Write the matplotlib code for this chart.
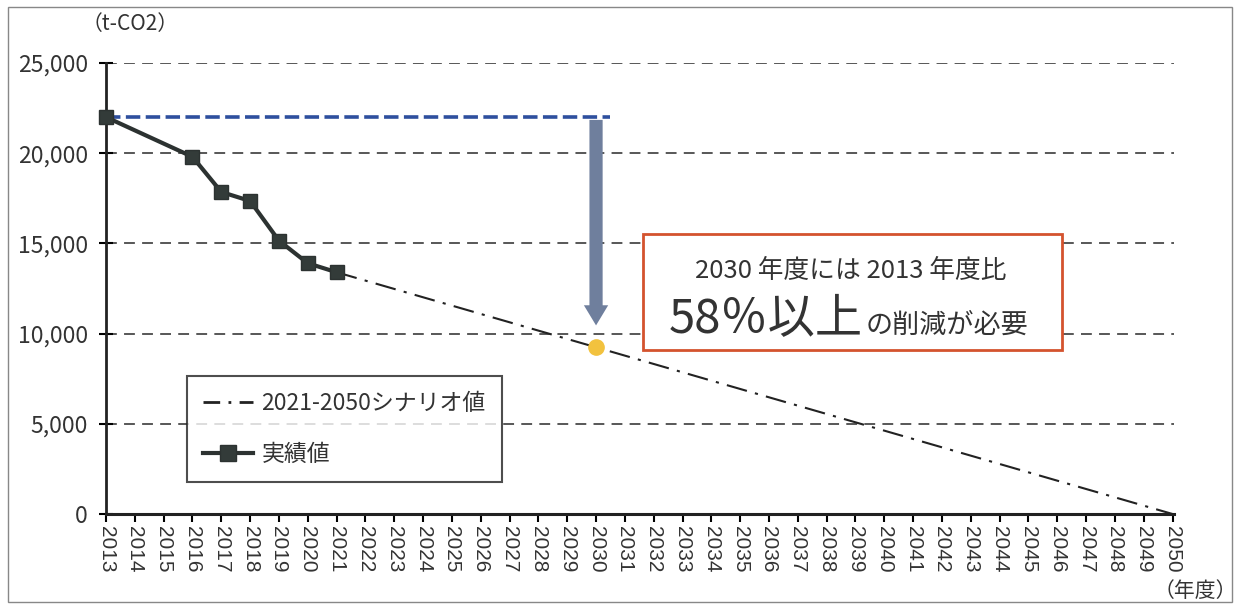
import matplotlib.pyplot as plt
from matplotlib.patches import Rectangle
from matplotlib.lines import Line2D

plt.rcParams['font.family'] = ['Noto Sans CJK JP', 'DejaVu Sans']

# data
years = list(range(2013, 2051))
actual_years = [2013, 2016, 2017, 2018, 2019, 2020, 2021]
actual_vals = [22000, 19800, 17850, 17350, 15150, 13900, 13400]
scenario_years = [2021, 2050]
scenario_vals = [13400, 0]
target_year = 2030
target_val = 13400 * (2050 - 2030) / (2050 - 2021)
base_val = 22000
y_ticks = [0, 5000, 10000, 15000, 20000, 25000]

W, H = 1235, 604
fig = plt.figure(figsize=(W / 100, H / 100), dpi=100)


def fx(x):
    return x / W


def fy(y):
    return 1 - y / H


ax = fig.add_axes([fx(106), fy(514), fx(1174 - 106), (514 - 63) / H])
ax.set_xlim(2013, 2050.05)
ax.set_ylim(0, 25000)

# grid
for v in y_ticks[1:]:
    ax.axhline(v, color='#4a4a4a', lw=1.3, ls=(0, (6, 4)), zorder=1)

# scenario
ax.plot(scenario_years, scenario_vals, color='#222222', lw=1.5,
        ls=(0, (10, 4, 1.5, 4)), zorder=3)

# 2013 level
ax.plot([2013, 2030.5], [base_val, base_val], color='#2e4f9e', lw=2.6,
        ls=(0, (4, 1.5)), zorder=3)

# arrow
ax.annotate('', xy=(target_year, 10300), xytext=(target_year, base_val),
            arrowprops=dict(arrowstyle='simple,head_width=1.75,head_length=1.45,tail_width=0.95',
                            mutation_scale=10, color='#6f7f9d', lw=0),
            zorder=4)

# actual
ax.plot(actual_years, actual_vals, color='#2c3231', lw=3, marker='s',
        markersize=10, markerfacecolor='#333b39', markeredgecolor='#2c3231',
        zorder=5, clip_on=False)

ax.plot([target_year], [target_val], 'o', color='#f2c23e', markersize=11,
        zorder=6)

# axes styling
for s in ['top', 'right']:
    ax.spines[s].set_visible(False)
ax.spines['left'].set_linewidth(2)
ax.spines['bottom'].set_linewidth(2.2)
ax.spines['left'].set_color('#222222')
ax.spines['bottom'].set_color('#222222')

ax.set_yticks(y_ticks)
ax.set_yticklabels([f'{v:,}' for v in y_ticks], fontsize=16.5, color='#333333')
ax.set_xticks(years)
ax.set_xticklabels([str(y) for y in years], rotation=-90, fontsize=15,
                   color='#333333', family='Liberation Sans')
ax.tick_params(axis='y', direction='inout', length=10, width=1.5, pad=8)
ax.tick_params(axis='x', direction='out', length=6, width=1.5, pad=3)

fig.text(fx(130), fy(24), '（t-CO2）', fontsize=15, color='#333333',
         ha='center', va='center')
fig.text(fx(1195), fy(591), '（年度）', fontsize=15, color='#333333',
         ha='center', va='center')

# legend
handles = [
    Line2D([], [], color='#222222', lw=2, ls=(0, (6, 3, 1, 3))),
    Line2D([], [], color='#2c3231', lw=3, marker='s', markersize=11,
           markerfacecolor='#333b39'),
]
leg = ax.legend(handles, ['2021-2050シナリオ値', '実績値'],
                loc='upper left', bbox_to_anchor=(fx(187), fy(376)),
                bbox_transform=fig.transFigure, fontsize=16.5,
                frameon=True, fancybox=False, borderpad=0.7,
                labelspacing=1.2, handlelength=2.2, handletextpad=0.35,
                borderaxespad=0)
leg.get_frame().set_edgecolor('#222222')
leg.get_frame().set_linewidth(1.5)
for t in leg.get_texts():
    t.set_color('#333333')

# message box
box = Rectangle((fx(643), fy(350)), fx(1062 - 643), (350 - 234) / H,
                transform=fig.transFigure, facecolor='white',
                edgecolor='#d4532e', lw=2, zorder=5)
fig.patches.append(box)
fig.text(fx(851), fy(271), '2030 年度には 2013 年度比', fontsize=18.5,
         color='#333333', ha='center', va='center', zorder=6)
fig.text(fx(863), fy(333), '58％以上', fontsize=34, color='#333333',
         ha='right', va='baseline', zorder=6)
fig.text(fx(866), fy(333), 'の削減が必要', fontsize=19.5, color='#333333',
         ha='left', va='baseline', zorder=6)

# outer frame
frame = Rectangle((fx(8), fy(602)), fx(1232 - 8), (602 - 7) / H,
                  transform=fig.transFigure, fill=False,
                  edgecolor='#888888', lw=1)
fig.patches.append(frame)

fig.savefig('out.png', dpi=100)
